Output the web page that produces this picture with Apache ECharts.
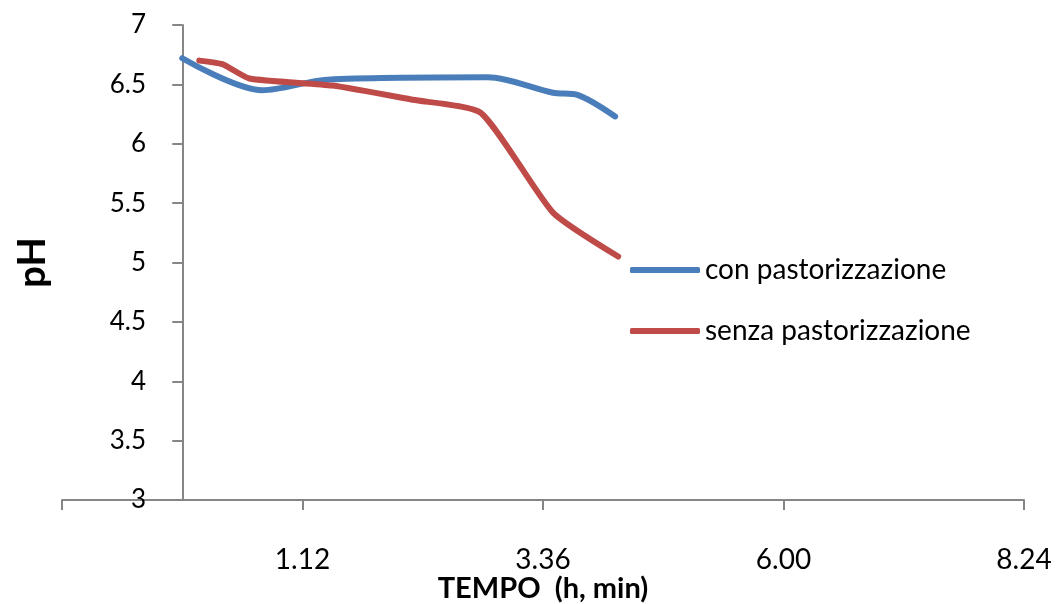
<!DOCTYPE html>
<html>
<head>
<meta charset="utf-8">
<title>pH vs tempo</title>
<script src="https://cdn.jsdelivr.net/npm/echarts@6/dist/echarts.min.js"></script>
<style>
  html, body { margin: 0; padding: 0; background: #fff; }
  #chart { width: 1062px; height: 604px; }
</style>
</head>
<body>
<div id="chart"></div>
<script>
// tempo in ore, pH
const conPastTime = [0, 0.8, 1.45, 3.05, 3.7, 3.95, 4.32];
const conPastPH   = [6.72, 6.45, 6.54, 6.56, 6.43, 6.41, 6.23];

const senzaPastTime = [0.17, 0.4, 0.67, 1.5, 2.3, 2.98, 3.7, 4.35];
const senzaPastPH   = [6.70, 6.67, 6.55, 6.49, 6.37, 6.26, 5.42, 5.05];

const seriesNames = ['con pastorizzazione', 'senza pastorizzazione'];
const colors = ['#4A7EBB', '#BE4B48'];

const pairs = (xs, ys) => xs.map((x, i) => [x, ys[i]]);

// ore -> "h.mm"
function hmm(v) {
  if (v < 0) return '';
  const h = Math.floor(v + 1e-9);
  const m = Math.round((v - h) * 60);
  return h + '.' + (m < 10 ? '0' + m : m);
}

const font = 'Lato, "Open Sans", sans-serif';
const axisGray = '#868686';

const chart = echarts.init(document.getElementById('chart'));
chart.setOption({
  animation: false,
  textStyle: { fontFamily: font },
  grid: { left: 62, right: 38, top: 25, bottom: 104, containLabel: false, outerBoundsMode: 'none' },
  legend: {
    orient: 'vertical',
    left: 630,
    top: 255,
    padding: 0,
    icon: 'roundRect',
    itemWidth: 70,
    itemHeight: 6,
    itemGap: 31,
    textStyle: { fontSize: 28, color: '#000', fontFamily: font, lineHeight: 30 },
    data: seriesNames
  },
  xAxis: {
    type: 'value',
    min: -1.2,
    max: 8.4,
    interval: 2.4,
    name: 'TEMPO  (h, min)',
    nameLocation: 'middle',
    nameGap: 74,
    nameMoveOverlap: false,
    nameTextStyle: { fontSize: 29, fontWeight: 'bold', color: '#000', fontFamily: font },
    axisLine: { onZero: false, lineStyle: { color: axisGray, width: 2 } },
    axisTick: { show: true, length: 10, lineStyle: { color: axisGray, width: 2 } },
    axisLabel: { margin: 46, fontSize: 28, color: '#000', formatter: hmm, showMinLabel: true, showMaxLabel: true },
    splitLine: { show: false }
  },
  yAxis: {
    type: 'value',
    min: 3,
    max: 7,
    interval: 0.5,
    name: 'pH',
    nameLocation: 'middle',
    nameRotate: 90,
    nameGap: 10,
    nameTextStyle: { fontSize: 38, fontWeight: 'bold', color: '#000', fontFamily: font },
    axisLine: { onZero: true, lineStyle: { color: axisGray, width: 2 } },
    axisTick: { show: true, length: 10, lineStyle: { color: axisGray, width: 2 } },
    // le etichette restano ancorate al bordo della griglia: margine negativo
    axisLabel: { margin: -84, fontSize: 26, color: '#000', align: 'right' },
    splitLine: { show: false }
  },
  series: [
    {
      name: seriesNames[0],
      type: 'line',
      data: pairs(conPastTime, conPastPH),
      smooth: 0.3,
      symbol: 'none',
      color: colors[0],
      lineStyle: { width: 6, color: colors[0], cap: 'round', join: 'round' }
    },
    {
      name: seriesNames[1],
      type: 'line',
      data: pairs(senzaPastTime, senzaPastPH),
      smooth: 0.18,
      symbol: 'none',
      color: colors[1],
      lineStyle: { width: 6, color: colors[1], cap: 'round', join: 'round' }
    }
  ]
});
</script>
</body>
</html>
